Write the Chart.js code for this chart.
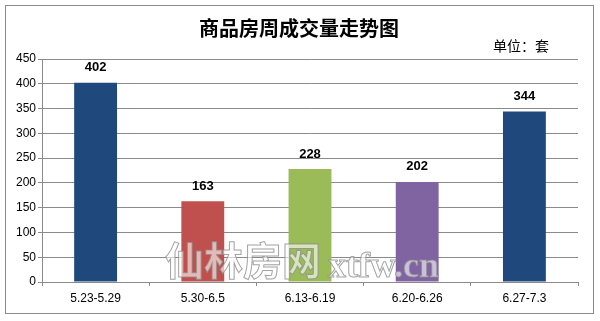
<!DOCTYPE html>
<html>
<head>
<meta charset="utf-8">
<script src="https://cdn.jsdelivr.net/npm/chart.js@4"></script>
<style>
  html, body { margin: 0; padding: 0; background: #fff; }
</style>
</head>
<body>
<canvas id="chart" width="600" height="321"></canvas>
<script>
// 数据
const weeks = ["5.23-5.29", "5.30-6.5", "6.13-6.19", "6.20-6.26", "6.27-7.3"];
const deals = [402, 163, 228, 202, 344];
const barColors = ["#1F497D", "#C0504D", "#9BBB59", "#8064A2", "#1F497D"];

const titleText = "商品房周成交量走势图";
const unitText = "单位：套";
const watermarkCn = "仙林房网";
const watermarkEn = "xtfw.cn";

// 标题、边框、数值标签、水印
const decorPlugin = {
  id: "decor",
  beforeDraw(chart) {
    const ctx = chart.ctx;
    ctx.save();
    ctx.fillStyle = "#fff";
    ctx.fillRect(0, 0, chart.width, chart.height);
    ctx.strokeStyle = "#8a8a8a";
    ctx.lineWidth = 1;
    ctx.strokeRect(5.5, 5.5, 588, 308);

    ctx.fillStyle = "#000";
    ctx.textAlign = "center";
    ctx.textBaseline = "middle";
    ctx.font = "bold 20px 'Noto Sans CJK SC'";
    ctx.fillText(titleText, 299, 28);

    ctx.textAlign = "left";
    ctx.font = "14px 'Noto Sans CJK SC'";
    ctx.fillText(unitText, 493, 46);
    ctx.restore();
  },
  afterDatasetsDraw(chart) {
    const ctx = chart.ctx;
    const meta = chart.getDatasetMeta(0);
    ctx.save();
    ctx.fillStyle = "#000";
    ctx.textAlign = "center";
    ctx.textBaseline = "middle";
    ctx.font = "bold 13px 'Liberation Sans'";
    meta.data.forEach((bar, i) => {
      ctx.fillText(String(deals[i]), bar.x, bar.y - 15);
    });

    // 水印
    ctx.lineWidth = 1;
    ctx.strokeStyle = "rgba(140,140,140,0.8)";
    ctx.fillStyle = "rgba(255,255,255,0.6)";
    ctx.textAlign = "left";
    ctx.textBaseline = "alphabetic";
    ctx.font = "bold 39px 'Noto Sans CJK SC'";
    ctx.fillText(watermarkCn, 165, 275);
    ctx.strokeText(watermarkCn, 165, 275);
    ctx.font = "bold 36px 'Liberation Serif'";
    ctx.fillText(watermarkEn, 328, 277);
    ctx.strokeText(watermarkEn, 328, 277);
    ctx.restore();
  }
};

new Chart(document.getElementById("chart"), {
  type: "bar",
  data: {
    labels: weeks,
    datasets: [{
      data: deals,
      backgroundColor: barColors,
      borderWidth: 0,
      categoryPercentage: 1,
      barPercentage: 0.4
    }]
  },
  options: {
    responsive: false,
    animation: false,
    layout: { padding: { left: 0, top: 59, right: 22, bottom: 0 } },
    plugins: {
      legend: { display: false },
      tooltip: { enabled: false }
    },
    scales: {
      x: {
        grid: { drawOnChartArea: false, tickLength: 4, color: "#8a8a8a" },
        border: { color: "#8a8a8a" },
        ticks: { color: "#000", font: { family: "'Liberation Sans'", size: 12 }, padding: 5 },
        afterFit(scale) { scale.height = 39; }
      },
      y: {
        min: 0,
        max: 450,
        ticks: { stepSize: 50, color: "#000", font: { family: "'Liberation Sans'", size: 12 }, padding: 2 },
        grid: { color: "#8a8a8a", tickLength: 4 },
        border: { color: "#8a8a8a" },
        afterFit(scale) { scale.width = 42; }
      }
    }
  },
  plugins: [decorPlugin]
});
</script>
</body>
</html>
